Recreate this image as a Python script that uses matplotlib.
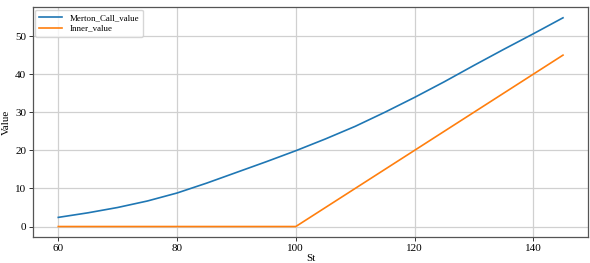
import matplotlib
matplotlib.use('Agg')
import matplotlib.pyplot as plt

# Stock price grid and option values
st = [60, 65, 70, 75, 80, 85, 90, 95, 100, 105, 110, 115, 120, 125, 130, 135, 140, 145]
merton_call = [2.4, 3.6, 5.0, 6.7, 8.8, 11.4, 14.2, 17.0, 19.9, 23.0, 26.3, 30.0,
               33.9, 38.0, 42.3, 46.5, 50.6, 54.8]
inner_value = [0, 0, 0, 0, 0, 0, 0, 0, 0, 5, 10, 15, 20, 25, 30, 35, 40, 45]

plt.rcParams['font.family'] = ['Liberation Serif', 'DejaVu Serif']
plt.rcParams['font.size'] = 8

fig = plt.figure(figsize=(5.9, 2.63), dpi=100)
ax = fig.add_axes([0.056, 0.099, 0.941, 0.873])

ax.plot(st, merton_call, color='#1f77b4', lw=1.2, label='Merton_Call_value')
ax.plot(st, inner_value, color='#ff7f0e', lw=1.2, label='Inner_value')

ax.set_xlabel('St', labelpad=1)
ax.set_ylabel('Value', labelpad=3)
ax.set_xticks([60, 80, 100, 120, 140])
ax.set_yticks([0, 10, 20, 30, 40, 50])
ax.grid(True, color='#d0d0d0', lw=0.9)
ax.tick_params(length=3, width=0.7, pad=2, colors='#333333', labelcolor='black')
for s in ax.spines.values():
    s.set_color('#555555')
    s.set_linewidth(0.9)

ax.legend(loc='upper left', fontsize=6.4, handlelength=2.6, borderpad=0.45,
          labelspacing=0.3, borderaxespad=0.25, fancybox=True)

plt.savefig('out.png', dpi=100)
